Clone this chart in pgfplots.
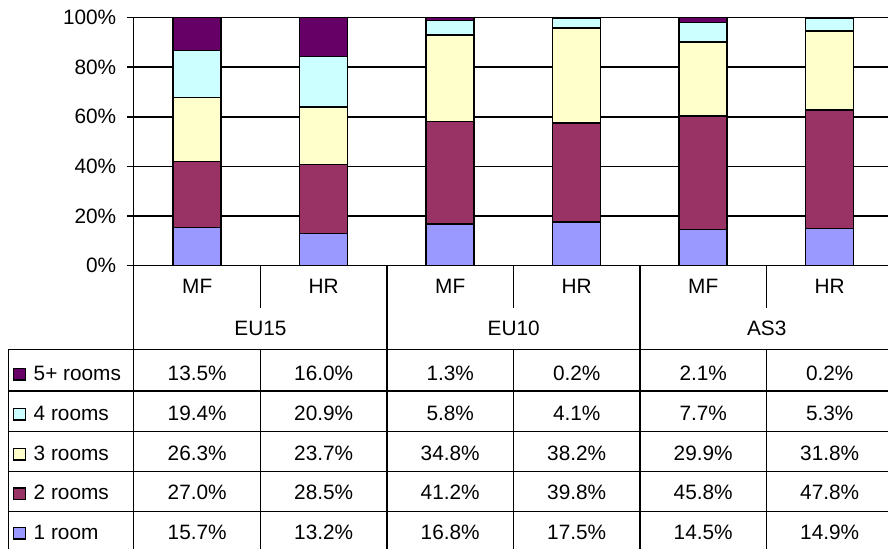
\documentclass[border=0pt]{standalone}
\usepackage{pgfplots}
\pgfplotsset{compat=1.18}
\usepackage{pgfplotstable}
\usepackage{fontspec}
\setmainfont{Liberation Sans}
\definecolor{c1}{HTML}{9999FF}
\definecolor{c2}{HTML}{993366}
\definecolor{c3}{HTML}{FFFFCC}
\definecolor{c4}{HTML}{CCFFFF}
\definecolor{c5}{HTML}{660066}
% columns: 0 EU15-MF, 1 EU15-HR, 2 EU10-MF, 3 EU10-HR, 4 AS3-MF, 5 AS3-HR
\pgfplotstableread{
x r1 r2 r3 r4 r5
0 15.7 27.0 26.3 19.4 13.5
1 13.2 28.5 23.7 20.9 16.0
2 16.8 41.2 34.8 5.8 1.3
3 17.5 39.8 38.2 4.1 0.2
4 14.5 45.8 29.9 7.7 2.1
5 14.9 47.8 31.8 5.3 0.2
}\data
\newcommand{\tot}{(\thisrow{r1}+\thisrow{r2}+\thisrow{r3}+\thisrow{r4}+\thisrow{r5})}
\begin{document}
\begin{tikzpicture}[x=0.5pt,y=0.5pt,font=\fontsize{10.4}{12.5}\selectfont]
\useasboundingbox (0,0) rectangle (888,549);
\begin{axis}[
  at={(66.85pt,141.65pt)}, anchor=south west,
  scale only axis, width=377.15pt, height=124.1pt,
  xmin=-0.5, xmax=5.463, ymin=0, ymax=100,
  ybar stacked, bar width=24pt,
  axis x line=none, axis y line*=left,
  axis line style={black, line width=0.75pt},
  xtick=\empty,
  ytick={0,20,40,60,80,100},
  yticklabels={0\%,20\%,40\%,60\%,80\%,100\%},
  ytick align=outside, major tick length=3.2pt,
  tick style={black, line width=0.75pt},
  yticklabel style={font=\fontsize{10.4}{12.5}\selectfont, xshift=-2pt},
  ymajorgrids, grid style={black, line width=0.75pt},
  every axis plot/.append style={draw=black, line width=0.7pt},
]
\addplot[fill=c1] table[x=x, y expr={100*\thisrow{r1}/\tot}] {\data};
\addplot[fill=c2] table[x=x, y expr={100*\thisrow{r2}/\tot}] {\data};
\addplot[fill=c3] table[x=x, y expr={100*\thisrow{r3}/\tot}] {\data};
\addplot[fill=c4] table[x=x, y expr={100*\thisrow{r4}/\tot}] {\data};
\addplot[fill=c5] table[x=x, y expr={100*\thisrow{r5}/\tot}] {\data};
\end{axis}
% data table grid
\begin{scope}[line width=0.75pt, black]
\draw (133.7,283.3) -- (133.7,0);
\draw (133.7,283.3) -- (888,283.3);
\foreach \gx in {387.2,640.2} \draw (\gx,283.3) -- (\gx,0);
\foreach \sx in {260.7,513.7,766.7} {
  \draw (\sx,283.3) -- (\sx,240.7);
  \draw (\sx,199.5) -- (\sx,0);
}
\foreach \ry in {199.5,158,117.7,77.5,37.3} \draw (8.3,\ry) -- (888,\ry);
\draw (8.3,199.5) -- (8.3,0);
\end{scope}
% category labels
\foreach \cx/\cl in {197.2/MF,323.7/HR,450.2/MF,576.7/HR,703.2/MF,829.7/HR}
  \node[anchor=base] at (\cx,255.7) {\cl};
\foreach \cx/\cl in {260.45/EU15,513.7/EU10,766.7/AS3}
  \node[anchor=base] at (\cx,213) {\cl};
% rows
\foreach \lab/\col/\by/\a/\b/\c/\d/\e/\f in {
  5+ rooms/c5/168.3/13.5/16.0/1.3/0.2/2.1/0.2,
  4 rooms/c4/128.3/19.4/20.9/5.8/4.1/7.7/5.3,
  3 rooms/c3/88.7/26.3/23.7/34.8/38.2/29.9/31.8,
  2 rooms/c2/49/27.0/28.5/41.2/39.8/45.8/47.8,
  1 room/c1/9.5/15.7/13.2/16.8/17.5/14.5/14.9}{
  \draw[fill=\col, line width=0.75pt] (13.5,\by+0.5) rectangle (25.5,\by+12);
  \node[anchor=base west, inner sep=0pt] at (33.3,\by) {\lab};
  \node[anchor=base, inner sep=0pt] at (197.2,\by) {\a\%};
  \node[anchor=base, inner sep=0pt] at (323.7,\by) {\b\%};
  \node[anchor=base, inner sep=0pt] at (450.2,\by) {\c\%};
  \node[anchor=base, inner sep=0pt] at (576.7,\by) {\d\%};
  \node[anchor=base, inner sep=0pt] at (703.2,\by) {\e\%};
  \node[anchor=base, inner sep=0pt] at (829.7,\by) {\f\%};
}
\end{tikzpicture}
\end{document}
